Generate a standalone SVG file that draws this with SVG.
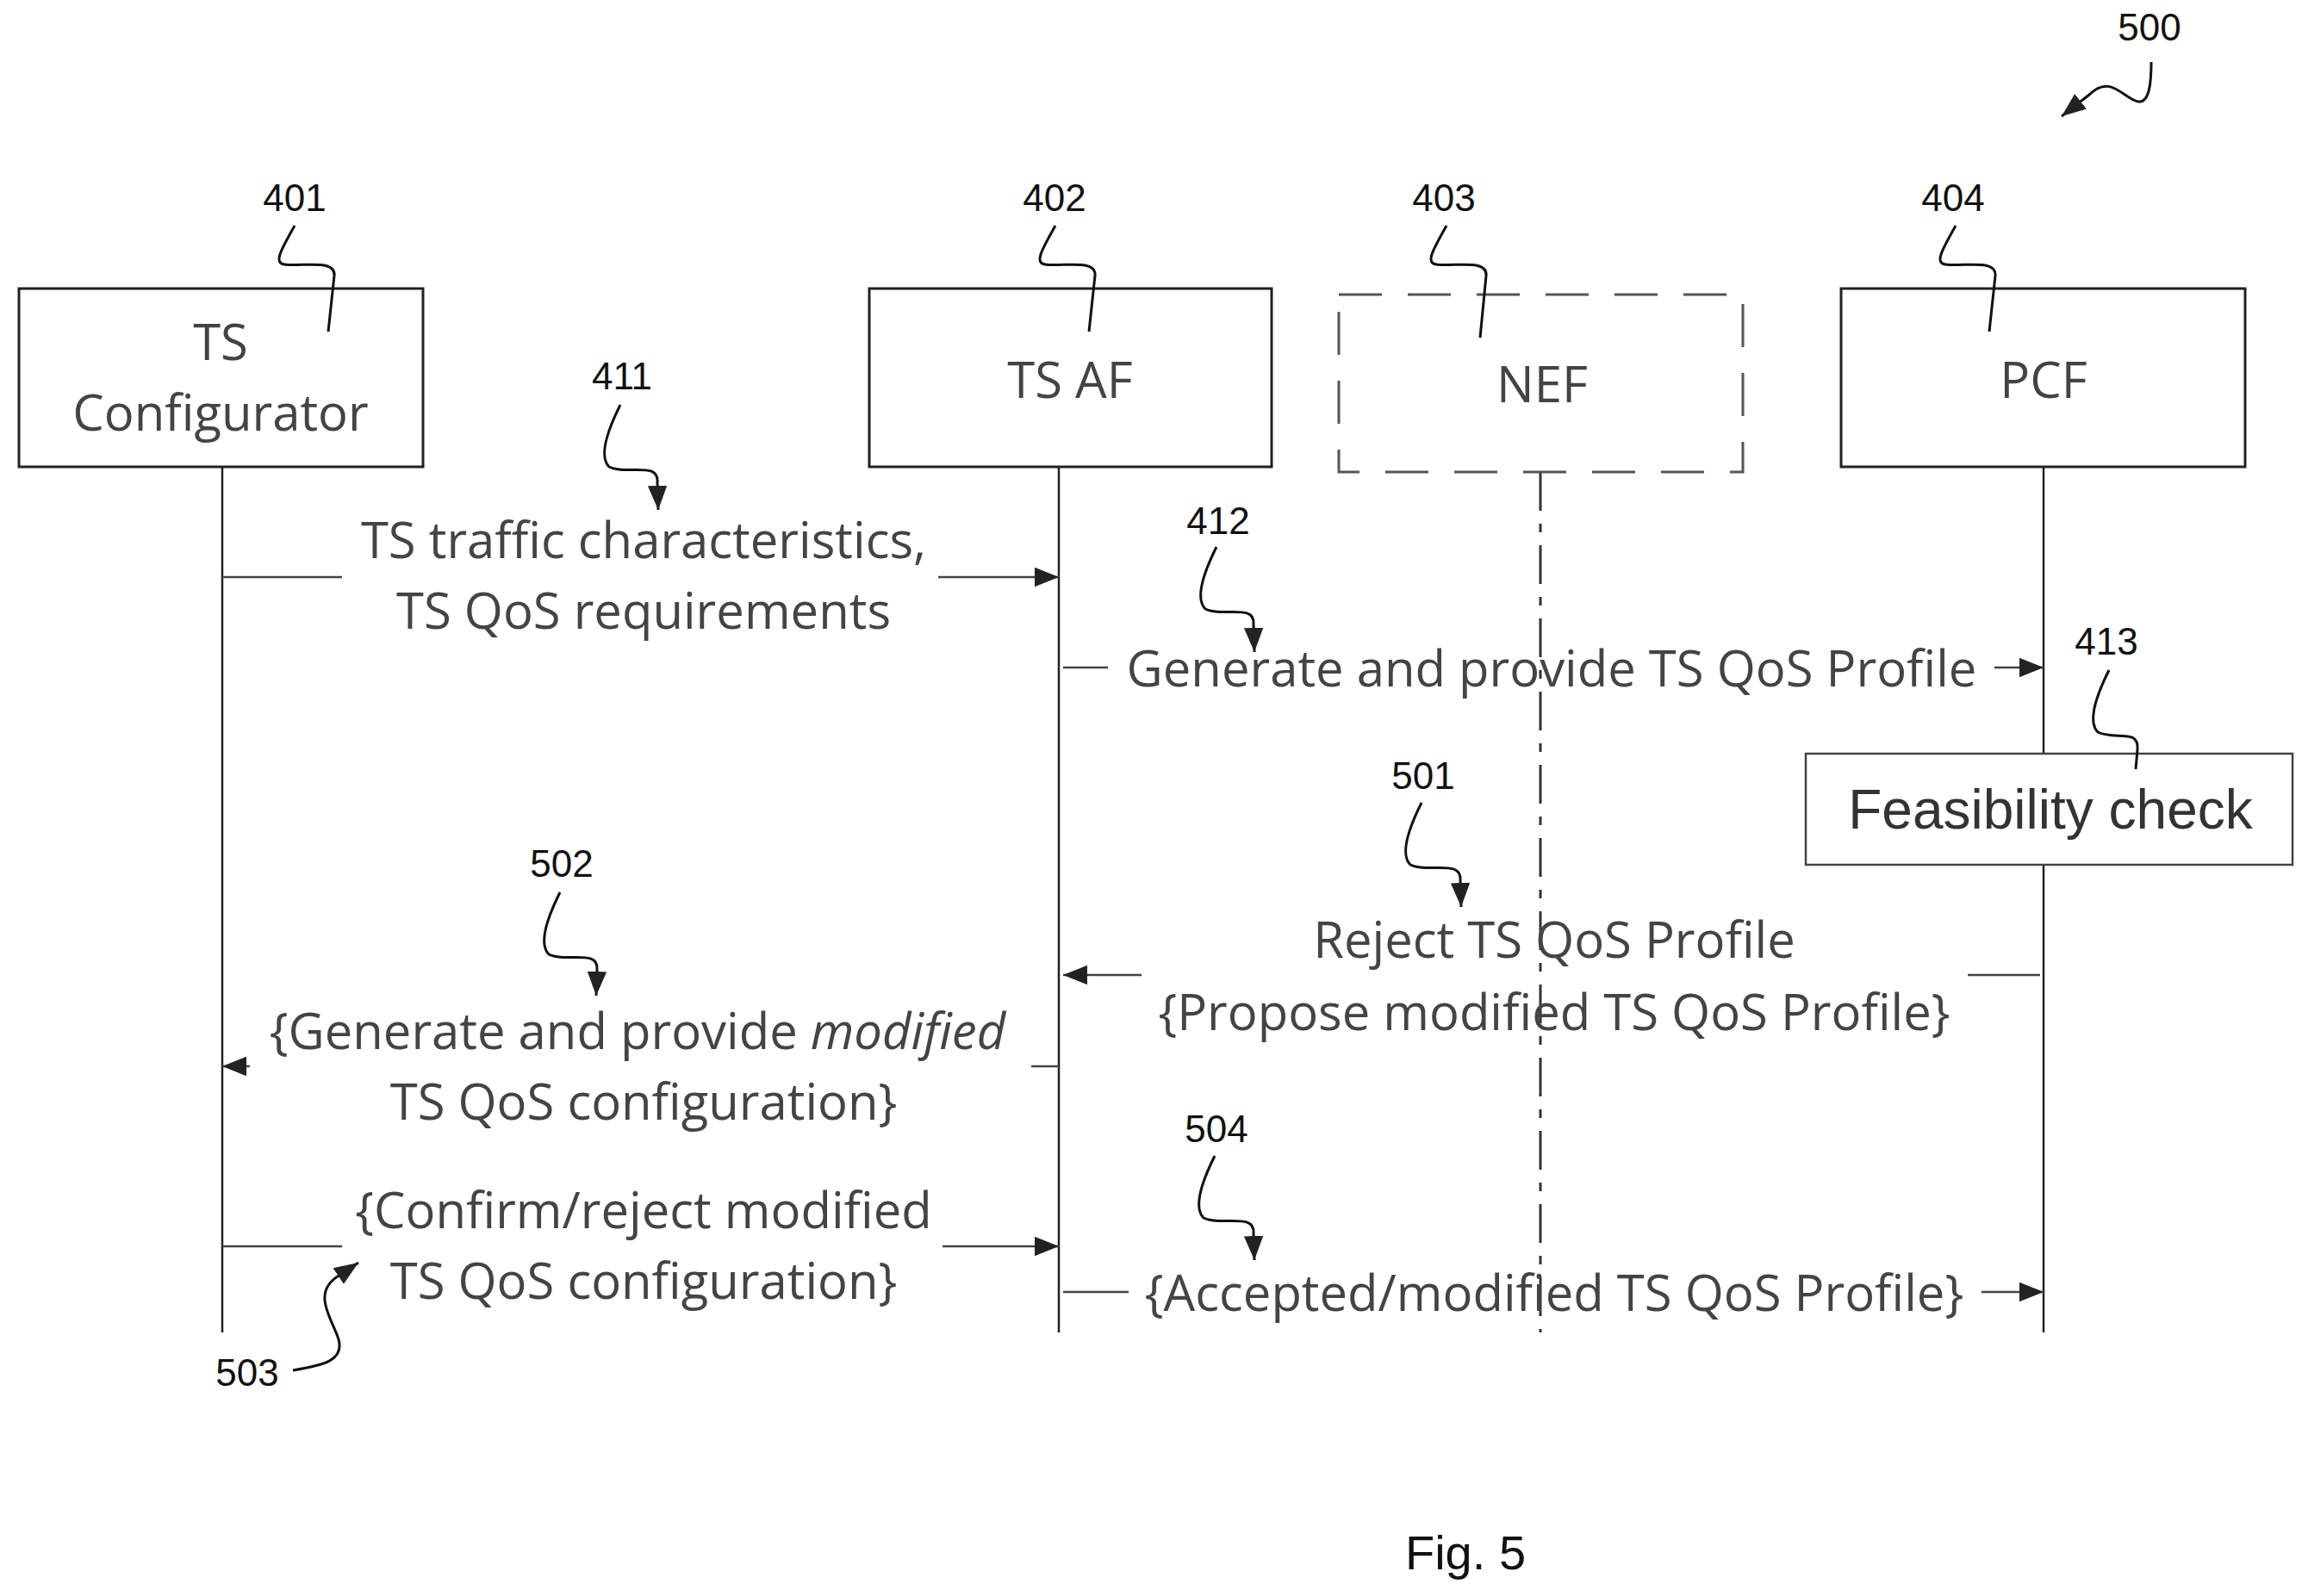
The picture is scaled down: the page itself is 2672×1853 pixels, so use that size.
<svg xmlns="http://www.w3.org/2000/svg" width="2672" height="1853" viewBox="0 0 2672 1853">
<style>
.box{fill:#fff;stroke:#222;stroke-width:3}
.dbox{fill:none;stroke:#555;stroke-width:3;stroke-dasharray:50,30}
.life{stroke:#222;stroke-width:2.5;fill:none}
.msg{stroke:#444;stroke-width:2.5;fill:none}
.sq{stroke:#111;stroke-width:3;fill:none}
.t{font-family:"Open Sans","DejaVu Sans",sans-serif;font-size:58px;fill:#444;text-anchor:middle}
.n{font-family:"Liberation Sans Narrow","Liberation Sans",sans-serif;font-size:44px;fill:#111;text-anchor:middle}
</style>
<defs>
<marker id="b" viewBox="0 0 10 10" refX="10" refY="5" markerWidth="28" markerHeight="28" markerUnits="userSpaceOnUse" orient="auto"><path d="M0,1 L10,5 L0,9 z" fill="#222"/></marker>
</defs>
<rect width="2672" height="1853" fill="#fff"/>
<g id="lifelines">
<line class="life" x1="258" y1="542" x2="258" y2="1547"/>
<line class="life" x1="1229" y1="542" x2="1229" y2="1547"/>
<line class="life" x1="1788" y1="548" x2="1788" y2="1547" stroke-dasharray="45,15,10,15" style="stroke:#333;stroke-width:3"/>
<line class="life" x1="2372" y1="542" x2="2372" y2="1547"/>
</g>
<g id="n401"><rect class="box" x="22" y="335" width="469" height="207"/><text class="t" x="256" y="418">TS</text><text class="t" x="256" y="500">Configurator</text></g>
<g id="n402"><rect class="box" x="1009" y="335" width="467" height="207"/><text class="t" x="1242" y="462">TS AF</text></g>
<g id="n403"><rect class="dbox" x="1554" y="342" width="469" height="206"/><text class="t" x="1790" y="467">NEF</text></g>
<g id="n404"><rect class="box" x="2137" y="335" width="469" height="207"/><text class="t" x="2372" y="462">PCF</text></g>
<g id="n413"><rect x="2096" y="875" width="565" height="129" fill="#fff" stroke="#444" stroke-width="2.5"/><text x="2380" y="962" text-anchor="middle" font-family="Liberation Sans,Arial,sans-serif" font-size="64" fill="#333">Feasibility check</text></g>
<g id="connectors">
<path class="msg" d="M258,670 H397 M1089,670 H1229" marker-end="url(#b)"/>
<path class="msg" d="M1234,775 H1286 M2315,775 H2372" marker-end="url(#b)"/>
<path class="msg" d="M2368,1132 H2284"/><path class="msg" d="M1325,1132 H1234" marker-end="url(#b)"/>
<path class="msg" d="M1229,1238 H1197"/><path class="msg" d="M290,1238 H258" marker-end="url(#b)"/>
<path class="msg" d="M258,1447 H397 M1094,1447 H1229" marker-end="url(#b)"/>
<path class="msg" d="M1234,1500 H1310 M2300,1500 H2372" marker-end="url(#b)"/>
</g>
<g id="labels">
<text class="t" x="747" y="648">TS traffic characteristics,</text>
<text class="t" x="747" y="730">TS QoS requirements</text>
<text class="t" x="1801" y="797">Generate and provide TS QoS Profile</text>
<text class="t" x="1804" y="1112">Reject TS QoS Profile</text>
<text class="t" x="1804" y="1196">{Propose modified TS QoS Profile}</text>
<text class="t" x="740" y="1218">{Generate and provide <tspan font-style="italic">modified</tspan></text>
<text class="t" x="747" y="1300">TS QoS configuration}</text>
<text class="t" x="747" y="1426">{Confirm/reject modified</text>
<text class="t" x="747" y="1508">TS QoS configuration}</text>
<text class="t" x="1804" y="1522">{Accepted/modified TS QoS Profile}</text>
<text x="1701" y="1822" text-anchor="middle" font-family="Liberation Sans,sans-serif" font-size="56" fill="#111">Fig. 5</text>
</g>
<g id="refs">
<text class="n" x="342" y="245">401</text>
<path class="sq" d="M342,262 C325,292 318,305 330,307 C350,310 390,300 388,320 L381,385"/>
<text class="n" x="1224" y="245">402</text>
<path class="sq" d="M1225,262 C1208,292 1201,305 1213,307 C1233,310 1273,300 1271,320 L1264,385"/>
<text class="n" x="1676" y="245">403</text>
<path class="sq" d="M1679,262 C1662,292 1655,305 1667,307 C1687,310 1727,300 1725,320 L1718,392"/>
<text class="n" x="2267" y="245">404</text>
<path class="sq" d="M2270,262 C2253,292 2246,305 2258,307 C2278,310 2318,300 2316,320 L2309,385"/>
<text class="n" x="2495" y="47">500</text>
<path class="sq" d="M2497,72 C2497,95 2495,120 2482,118 C2465,115 2450,85 2425,110 L2393,135" marker-end="url(#b)"/>
<text class="n" x="722" y="452">411</text>
<path class="sq" d="M720,470 C705,500 695,530 707,542 C727,552 765,535 763,560 L764,592" marker-end="url(#b)"/>
<text class="n" x="1414" y="620">412</text>
<path class="sq" d="M1412,635 C1397,665 1387,695 1399,707 C1419,717 1457,700 1455,725 L1456,757" marker-end="url(#b)"/>
<text class="n" x="2445" y="760">413</text>
<path class="sq" d="M2448,778 C2433,808 2423,838 2435,850 C2455,860 2483,845 2481,870 L2479,893"/>
<text class="n" x="1652" y="916">501</text>
<path class="sq" d="M1650,932 C1635,962 1625,992 1637,1004 C1657,1014 1697,997 1695,1022 L1696,1053" marker-end="url(#b)"/>
<text class="n" x="652" y="1018">502</text>
<path class="sq" d="M650,1036 C635,1066 625,1096 637,1108 C657,1118 695,1101 693,1126 L692,1156" marker-end="url(#b)"/>
<text class="n" x="287" y="1609">503</text>
<path class="sq" d="M340,1591 C375,1585 400,1580 393,1555 C385,1530 360,1500 395,1480 L416,1466" marker-end="url(#b)"/>
<text class="n" x="1412" y="1326">504</text>
<path class="sq" d="M1410,1342 C1395,1372 1385,1402 1397,1414 C1417,1424 1457,1407 1455,1432 L1456,1463" marker-end="url(#b)"/>
</g>
</svg>
